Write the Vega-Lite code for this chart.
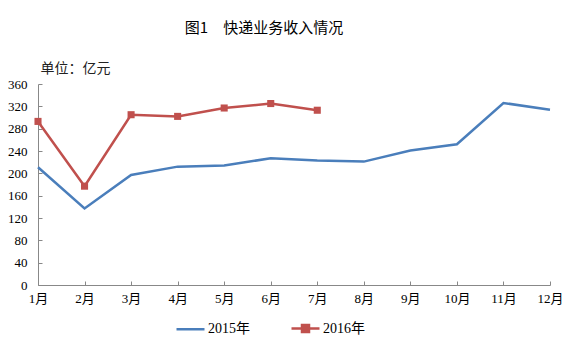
{
  "$schema": "https://vega.github.io/schema/vega-lite/v6.json",
  "width": 512,
  "height": 201,
  "autosize": "none",
  "padding": {"left": 38, "top": 84, "right": 13, "bottom": 53},
  "background": "white",
  "title": {"text": "图1　快递业务收入情况", "font": "Noto Sans CJK SC", "fontSize": 15, "fontWeight": "normal", "color": "#000", "anchor": "middle", "offset": 25, "dx": -30},
  "config": {"view": {"stroke": null}},
  "data": {"values": [
    {"month": "1月", "year": "2015年", "value": 211},
    {"month": "2月", "year": "2015年", "value": 137},
    {"month": "3月", "year": "2015年", "value": 197},
    {"month": "4月", "year": "2015年", "value": 212},
    {"month": "5月", "year": "2015年", "value": 214},
    {"month": "6月", "year": "2015年", "value": 227},
    {"month": "7月", "year": "2015年", "value": 223},
    {"month": "8月", "year": "2015年", "value": 221},
    {"month": "9月", "year": "2015年", "value": 241},
    {"month": "10月", "year": "2015年", "value": 252},
    {"month": "11月", "year": "2015年", "value": 326},
    {"month": "12月", "year": "2015年", "value": 314},
    {"month": "1月", "year": "2016年", "value": 293},
    {"month": "2月", "year": "2016年", "value": 177},
    {"month": "3月", "year": "2016年", "value": 305},
    {"month": "4月", "year": "2016年", "value": 302},
    {"month": "5月", "year": "2016年", "value": 317},
    {"month": "6月", "year": "2016年", "value": 325},
    {"month": "7月", "year": "2016年", "value": 313}
  ]},
  "encoding": {
    "x": {
      "field": "month", "type": "ordinal",
      "sort": ["1月","2月","3月","4月","5月","6月","7月","8月","9月","10月","11月","12月"],
      "scale": {"type": "point", "padding": 0},
      "axis": {"title": null, "labelAngle": 0, "labelFont": "'Liberation Serif', 'Noto Sans CJK SC', serif", "labelFontSize": 13, "labelColor": "#000", "labelPadding": 11, "tickSize": -4, "tickColor": "#888", "domainColor": "#888", "grid": false}
    },
    "y": {
      "field": "value", "type": "quantitative",
      "scale": {"domain": [0, 360], "nice": false},
      "axis": {"values": [0,40,80,120,160,200,240,280,320,360], "title": "单位：亿元", "titleAngle": 0, "titleAlign": "left", "titleBaseline": "middle", "titleX": 2, "titleY": -16, "titleFont": "Noto Sans CJK SC", "titleFontSize": 14, "titleFontWeight": "normal", "titleColor": "#222", "labelFont": "'Liberation Serif', serif", "labelFontSize": 13, "labelColor": "#000", "labelPadding": 15, "tickSize": -4, "tickColor": "#888", "domainColor": "#888", "grid": false}
    },
    "color": {
      "field": "year", "type": "nominal",
      "scale": {"domain": ["2015年", "2016年"], "range": ["#4A7EBB", "#C0504D"]},
      "legend": {
        "title": null, "orient": "none", "direction": "horizontal", "legendX": 137, "legendY": 229,
        "labelFont": "'Liberation Serif', 'Noto Sans CJK SC', serif", "labelFontSize": 14, "labelColor": "#000",
        "symbolSize": 784, "labelOffset": 2, "columnPadding": 36,
        "encoding": {
          "symbols": {
            "shape": {"condition": {"test": "datum.value == '2016年'", "value": "M-1,0H1M-0.25,-0.25H0.25V0.25H-0.25Z"}, "value": "M-1,0H1"},
            "fill": {"condition": {"test": "datum.value == '2016年'", "value": "#C0504D"}, "value": "#4A7EBB"},
            "stroke": {"condition": {"test": "datum.value == '2016年'", "value": "#C0504D"}, "value": "#4A7EBB"},
            "strokeWidth": {"value": 2.5},
            "opacity": {"value": 1}
          }
        }
      }
    }
  },
  "layer": [
    {"mark": {"type": "line", "strokeWidth": 2.5}},
    {"transform": [{"filter": "datum.year == '2016年'"}], "mark": {"type": "point", "shape": "square", "filled": true, "size": 50, "opacity": 1}}
  ]
}
